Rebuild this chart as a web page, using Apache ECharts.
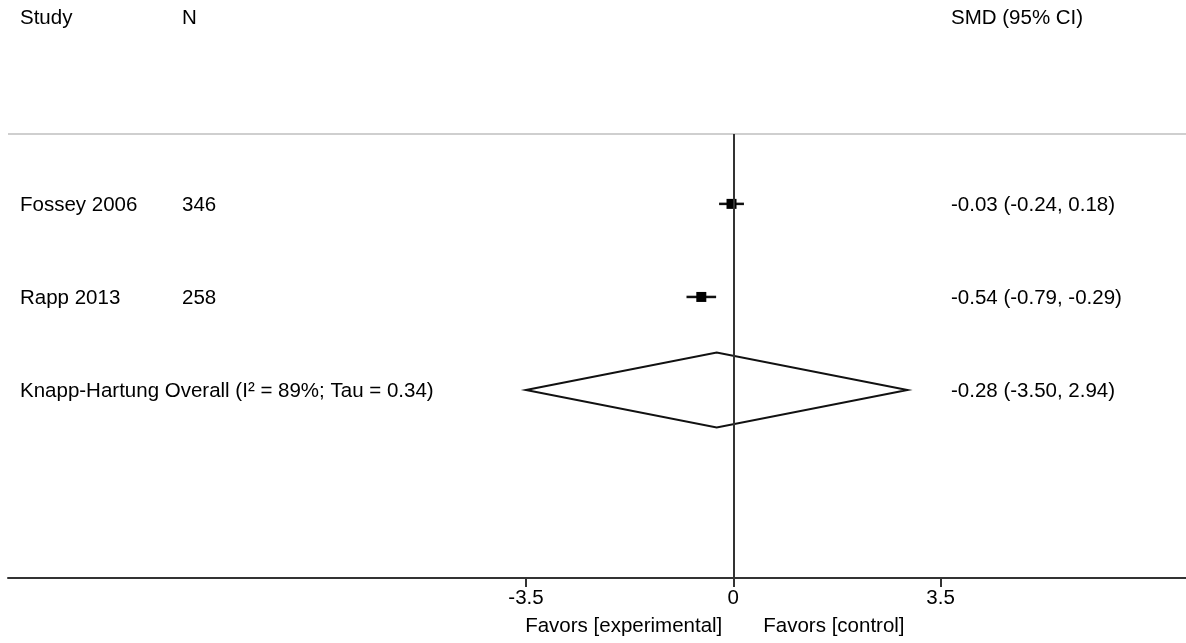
<!DOCTYPE html>
<html><head><meta charset="utf-8">
<script src="https://cdn.jsdelivr.net/npm/echarts@6/dist/echarts.min.js"></script>
<style>html,body{margin:0;padding:0;background:#fff}#c{width:1186px;height:643px}</style>
</head><body><div id="c"></div>
<script>
// ---- data ----
const studies = ['Fossey 2006', 'Rapp 2013'];
const sampleSizes = [346, 258];
const smd = [-0.03, -0.54];
const ciLow = [-0.24, -0.79];
const ciHigh = [0.18, -0.29];
const overallLabel = 'Knapp-Hartung Overall (I\u00B2 = 89%; Tau = 0.34)';
const overallSmd = -0.28;
const overallLow = -3.50;
const overallHigh = 2.94;
const tickValues = [-3.5, 0, 3.5];
const tickLabels = ['-3.5', '0', '3.5'];
const headers = ['Study', 'N', 'SMD (95% CI)'];
const favorsLabels = ['Favors [experimental]', 'Favors [control]'];

// ---- layout ----
const FONT = 'Liberation Sans, Arial, Helvetica, sans-serif';
const FS = 20.5;
const TXT = '#000';
const X_MIN = -12.245, X_MAX = 7.643;
const Y_MIN = -1.18, Y_MAX = 5.02;
const HEADER_ROW = -1, SEP_ROW = 0.25;
const COL_STUDY = 20, COL_N = 182, COL_CI = 951;
const BOX = 10, DIAMOND_HALF = 37.5;

const fmt = (v) => v.toFixed(2);
const rowTexts = [headers]
  .concat(studies.map((s, i) => [s, String(sampleSizes[i]), fmt(smd[i]) + ' (' + fmt(ciLow[i]) + ', ' + fmt(ciHigh[i]) + ')']))
  .concat([[overallLabel, '', fmt(overallSmd) + ' (' + fmt(overallLow) + ', ' + fmt(overallHigh) + ')']]);
const rowPositions = [HEADER_ROW].concat(studies.map((s, i) => i + 1)).concat([studies.length + 1]);

const chart = echarts.init(document.getElementById('c'), null, {renderer: 'canvas'});

function textEl(x, y, str, align) {
  return {type: 'text', style: {x: x, y: y, text: str, fill: TXT, font: FS + 'px ' + FONT, textAlign: align || 'left', textVerticalAlign: 'middle'}};
}

chart.setOption({
  animation: false,
  backgroundColor: '#fff',
  grid: {left: 8, right: 0, top: 1, bottom: 65},
  xAxis: {
    type: 'value', min: X_MIN, max: X_MAX,
    splitLine: {show: false},
    axisLine: {show: true, onZero: false, lineStyle: {color: '#333', width: 2}},
    axisTick: {show: true, customValues: tickValues, length: 9, lineStyle: {color: '#333', width: 2}},
    axisLabel: {customValues: tickValues, formatter: (v) => { const k = tickValues.indexOf(v); return k >= 0 ? tickLabels[k] : ''; },
      fontSize: FS, fontFamily: FONT, color: TXT, margin: 10}
  },
  yAxis: {type: 'value', inverse: true, min: Y_MIN, max: Y_MAX, show: false, splitLine: {show: false}},
  series: [
    {
      type: 'custom', name: 'studies',
      data: studies.map((s, i) => [smd[i], ciLow[i], ciHigh[i], i + 1]),
      encode: {x: [0, 1, 2], y: 3},
      renderItem: (params, api) => {
        const row = api.value(3);
        const c = api.coord([api.value(0), row]);
        const lo = api.coord([api.value(1), row]);
        const hi = api.coord([api.value(2), row]);
        return {type: 'group', children: [
          {type: 'line', shape: {x1: lo[0], y1: lo[1], x2: hi[0], y2: hi[1]}, style: {stroke: '#111', lineWidth: 2.5}},
          {type: 'rect', shape: {x: c[0] - BOX / 2, y: c[1] - BOX / 2, width: BOX, height: BOX}, style: {fill: '#000'}}
        ]};
      },
      markLine: {
        silent: true, symbol: 'none', animation: false,
        label: {show: false},
        data: [
          [{coord: [X_MIN, SEP_ROW], lineStyle: {color: '#cfcfcf', width: 2, type: 'solid'}}, {coord: [X_MAX, SEP_ROW]}],
          [{coord: [0, SEP_ROW], lineStyle: {color: '#333', width: 2, type: 'solid'}}, {coord: [0, Y_MAX]}]
        ]
      },
      z: 3
    },
    {
      type: 'custom', name: 'overall',
      data: [[overallSmd, overallLow, overallHigh, studies.length + 1]],
      encode: {x: [0, 1, 2], y: 3},
      renderItem: (params, api) => {
        const row = api.value(3);
        const c = api.coord([api.value(0), row]);
        const lo = api.coord([api.value(1), row]);
        const hi = api.coord([api.value(2), row]);
        return {type: 'polygon', shape: {points: [[lo[0], lo[1]], [c[0], c[1] - DIAMOND_HALF], [hi[0], hi[1]], [c[0], c[1] + DIAMOND_HALF]]},
          style: {fill: 'none', stroke: '#111', lineWidth: 2}};
      },
      z: 3
    },
    {
      type: 'custom', name: 'table',
      data: rowPositions.map((r) => [0, r]),
      encode: {x: 0, y: 1},
      clip: false,
      renderItem: (params, api) => {
        const t = rowTexts[params.dataIndex];
        const y = api.coord([0, api.value(1)])[1] + 1;
        return {type: 'group', children: [
          textEl(COL_STUDY, y, t[0]),
          textEl(COL_N, y, t[1]),
          textEl(COL_CI, y, t[2])
        ]};
      }
    },
    {
      type: 'custom', name: 'favors',
      data: [[0, Y_MAX]],
      encode: {x: 0, y: 1},
      clip: false,
      renderItem: (params, api) => {
        const p = api.coord([api.value(0), api.value(1)]);
        const y = p[1] + 48;
        return {type: 'group', children: [
          textEl(p[0] - 11, y, favorsLabels[0], 'right'),
          textEl(p[0] + 30, y, favorsLabels[1], 'left')
        ]};
      }
    }
  ]
});
</script></body></html>
